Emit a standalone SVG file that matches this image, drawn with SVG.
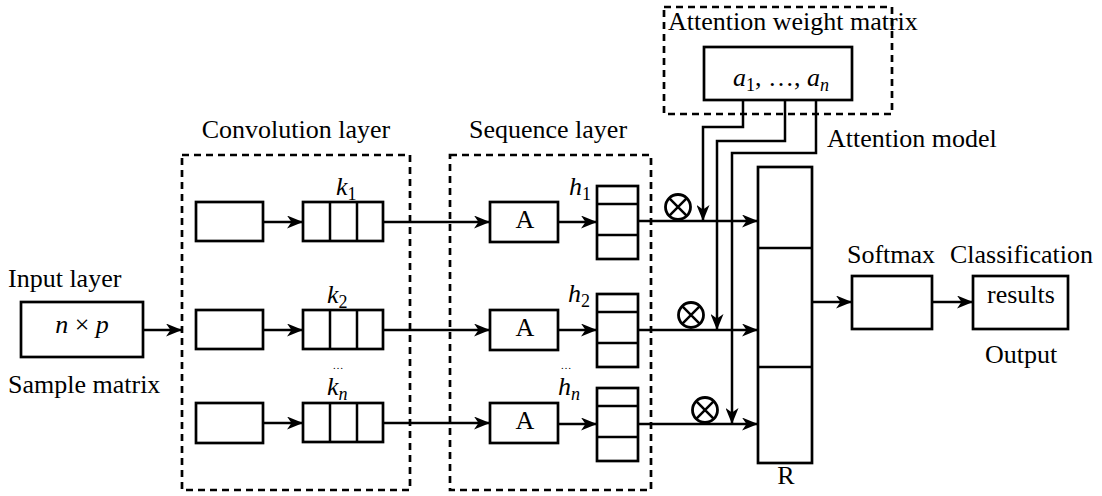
<svg xmlns="http://www.w3.org/2000/svg" width="1102" height="496" viewBox="0 0 1102 496" font-family="'Liberation Serif', 'Times New Roman', 'DejaVu Serif', serif">
  <defs>
    <style>
      text { font-family: 'Liberation Serif', 'Times New Roman', 'DejaVu Serif', serif; font-size: 26px; fill: #000; }
      .it { font-style: italic; }
      .sub { font-size: 18px; }
      .dots { font-size: 11px; }
      .box { fill: #fff; stroke: #000; stroke-width: 2.7; }
      .dash { fill: none; stroke: #000; stroke-width: 2.7; stroke-dasharray: 7 5; }
      .ln { fill: none; stroke: #000; stroke-width: 2.5; }
      .arr { fill: none; stroke: #000; stroke-width: 2.5; marker-end: url(#head); }
      .otimes { fill: #fff; stroke: #000; stroke-width: 2.8; }
    </style>
    <marker id="head" markerUnits="userSpaceOnUse" markerWidth="17" markerHeight="13" refX="16" refY="6.5" orient="auto">
      <path d="M0,0 L16,6.5 L0,13 L4.5,6.5 z" fill="#000"/>
    </marker>
    <g id="mul">
      <circle cx="0" cy="0" r="12.5" class="otimes"/>
      <path d="M-8.8,-8.8 L8.8,8.8 M8.8,-8.8 L-8.8,8.8" class="ln"/>
    </g>
    <g id="cells3">
      <rect x="0" y="0" width="80" height="39" class="box"/>
      <path d="M27,0 V39 M54,0 V39" class="ln"/>
    </g>
    <g id="cellsh">
      <rect x="0" y="0" width="41" height="73" class="box"/>
      <path d="M0,18 H41 M0,49 H41" class="ln"/>
    </g>
  </defs>

  <rect width="1102" height="496" fill="#fff"/>

  <!-- group frames -->
  <g id="conv-frame">
    <rect x="182" y="155" width="228" height="335" class="dash"/>
    <text x="296" y="138" text-anchor="middle">Convolution layer</text>
  </g>
  <g id="seq-frame">
    <rect x="450" y="155" width="201" height="335" class="dash"/>
    <text x="548" y="138" text-anchor="middle">Sequence layer</text>
  </g>
  <g id="attn-frame">
    <rect x="664" y="7" width="228" height="107" class="dash"/>
    <text x="668" y="30">Attention weight matrix</text>
  </g>

  <!-- connectors -->
  <g id="connectors">
    <path d="M143,330 H182" class="arr"/>
    <path d="M263,222 H303" class="arr"/>
    <path d="M263,330 H303" class="arr"/>
    <path d="M263,423 H303" class="arr"/>
    <path d="M383,222 H490" class="arr"/>
    <path d="M383,330 H490" class="arr"/>
    <path d="M383,423 H490" class="arr"/>
    <path d="M558,222 H597" class="arr"/>
    <path d="M558,330 H597" class="arr"/>
    <path d="M558,424 H597" class="arr"/>
    <path d="M638,221 H758" class="arr"/>
    <path d="M638,330 H758" class="arr"/>
    <path d="M638,424 H758" class="arr"/>
    <path d="M743,100 V127 H703 V221" class="arr"/>
    <path d="M785,100 V141 H717 V330" class="arr"/>
    <path d="M816,100 V153 H732 V424" class="arr"/>
    <path d="M812,302 H852" class="arr"/>
    <path d="M932,302 H973" class="arr"/>
  </g>

  <!-- product operators -->
  <g id="mul-1"><use href="#mul" x="678" y="207"/></g>
  <g id="mul-2"><use href="#mul" x="691" y="315"/></g>
  <g id="mul-n"><use href="#mul" x="705" y="410"/></g>

  <!-- input -->
  <g id="input">
    <text x="8" y="287">Input layer</text>
    <rect x="21" y="302" width="122" height="55" class="box"/>
    <text x="82" y="333" text-anchor="middle"><tspan class="it">n</tspan> × <tspan class="it">p</tspan></text>
    <text x="8" y="393">Sample matrix</text>
  </g>

  <!-- convolution rows -->
  <g id="conv-1">
    <rect x="196" y="202" width="67" height="39" class="box"/>
    <use href="#cells3" x="303" y="202"/>
    <text x="336" y="195"><tspan class="it">k</tspan><tspan class="sub" dy="5">1</tspan></text>
  </g>
  <g id="conv-2">
    <rect x="196" y="310" width="67" height="39" class="box"/>
    <use href="#cells3" x="303" y="310"/>
    <text x="327" y="303"><tspan class="it">k</tspan><tspan class="sub" dy="5">2</tspan></text>
  </g>
  <g id="conv-n">
    <rect x="196" y="403" width="67" height="40" class="box"/>
    <use href="#cells3" x="303" y="403"/>
    <text x="338" y="369" class="dots" text-anchor="middle">…</text>
    <text x="327" y="395"><tspan class="it">k</tspan><tspan class="sub it" dy="5">n</tspan></text>
  </g>

  <!-- sequence rows -->
  <g id="seq-1">
    <rect x="490" y="202" width="68" height="40" class="box"/>
    <text x="525" y="228" text-anchor="middle">A</text>
    <use href="#cellsh" x="597" y="186"/>
    <text x="569" y="195"><tspan class="it">h</tspan><tspan class="sub" dy="5">1</tspan></text>
  </g>
  <g id="seq-2">
    <rect x="490" y="310" width="68" height="40" class="box"/>
    <text x="525" y="336" text-anchor="middle">A</text>
    <use href="#cellsh" x="597" y="294"/>
    <text x="568" y="302"><tspan class="it">h</tspan><tspan class="sub" dy="5">2</tspan></text>
  </g>
  <g id="seq-n">
    <rect x="490" y="403" width="68" height="40" class="box"/>
    <text x="525" y="429" text-anchor="middle">A</text>
    <use href="#cellsh" x="597" y="388"/>
    <text x="566" y="369" class="dots" text-anchor="middle">…</text>
    <text x="558" y="395"><tspan class="it">h</tspan><tspan class="sub it" dy="5">n</tspan></text>
  </g>

  <!-- attention weights -->
  <g id="attn-weights">
    <rect x="704" y="47" width="148" height="53" class="box"/>
    <text x="733" y="86"><tspan class="it">a</tspan><tspan class="sub" dy="5">1</tspan><tspan dy="-5">, …, </tspan><tspan class="it">a</tspan><tspan class="sub it" dy="5">n</tspan></text>
  </g>
  <g id="attn-model">
    <text x="827" y="147">Attention model</text>
  </g>

  <!-- merged representation -->
  <g id="R">
    <rect x="758" y="167" width="54" height="296" class="box"/>
    <path d="M758,248 H812 M758,367 H812" class="ln"/>
    <text x="786" y="484" text-anchor="middle">R</text>
  </g>

  <!-- output -->
  <g id="softmax">
    <rect x="852" y="276" width="80" height="53" class="box"/>
    <text x="891" y="263" text-anchor="middle">Softmax</text>
  </g>
  <g id="output">
    <rect x="973" y="276" width="95" height="53" class="box"/>
    <text x="950" y="263">Classification</text>
    <text x="1021" y="303" text-anchor="middle">results</text>
    <text x="1021" y="363" text-anchor="middle">Output</text>
  </g>
</svg>
